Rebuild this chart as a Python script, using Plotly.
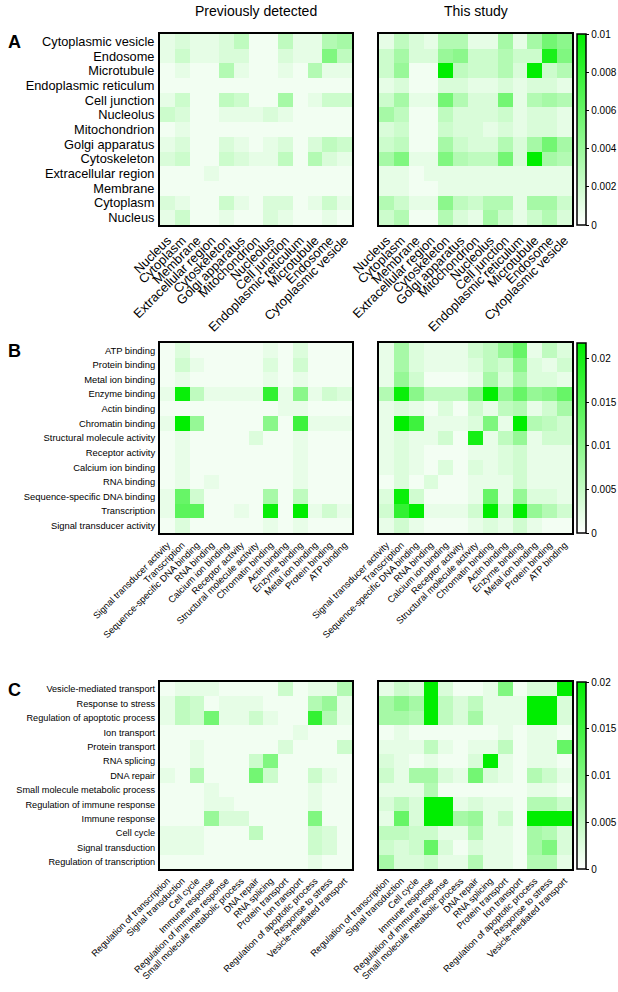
import plotly.graph_objects as go

# ---------------- DATA ----------------
cc_terms = ["Nucleus", "Cytoplasm", "Membrane", "Extracellular region", "Cytoskeleton",
            "Golgi apparatus", "Mitochondrion", "Nucleolus", "Cell junction",
            "Endoplasmic reticulum", "Microtubule", "Endosome", "Cytoplasmic vesicle"]
mf_terms = ["Signal transducer activity", "Transcription", "Sequence-specific DNA binding",
            "RNA binding", "Calcium ion binding", "Receptor activity",
            "Structural molecule activity", "Chromatin binding", "Actin binding",
            "Enzyme binding", "Metal ion binding", "Protein binding", "ATP binding"]
bp_terms = ["Regulation of transcription", "Signal transduction", "Cell cycle",
            "Immune response", "Regulation of immune response",
            "Small molecule metabolic process", "DNA repair", "RNA splicing",
            "Protein transport", "Ion transport", "Regulation of apoptotic process",
            "Response to stress", "Vesicle-mediated transport"]

# rows listed top-to-bottom (last term first), columns left-to-right (term order)
cc_prev = [
    [.001, .0015, .001, .001, .0015, .0025, .0005, .0005, .0025, .001, .001, .003, .0035],
    [.001, .002, .001, .001, .0015, .0015, .0005, .0005, .0015, .001, .001, .005, .0025],
    [.0005, .001, .0005, .0005, .003, .001, .0005, .0005, .001, .0005, .003, .001, .001],
    [.0005, .0005, .0005, .0005, .0005, .0005, .0005, .0005, .0005, .0005, .0005, .0005, .0005],
    [.001, .002, .0005, .0005, .0025, .002, .0005, .0005, .0035, .0005, .001, .002, .002],
    [.002, .0015, .0005, .0005, .001, .001, .001, .0015, .001, .0005, .0005, .0005, .0005],
    [.0005, .001, .0005, .0005, .0005, .0005, .0005, .0005, .0005, .0005, .0005, .0005, .0005],
    [.001, .0015, .0005, .0005, .0015, .001, .0005, .001, .0015, .0005, .0015, .0025, .002],
    [.0015, .002, .0005, .0005, .002, .0015, .001, .001, .0025, .0005, .003, .0015, .001],
    [.0005, .0005, .0005, .001, .0005, .0005, .0005, .0005, .0005, .0005, .0005, .0005, .0005],
    [.0005, .0005, .0005, .0005, .0005, .0005, .0005, .0005, .0005, .0005, .0005, .0005, .0005],
    [.0015, .001, .0005, .0005, .002, .001, .0005, .0015, .0015, .0005, .001, .002, .001],
    [.001, .002, .0005, .0005, .001, .0005, .0005, .0015, .001, .0005, .0005, .001, .0005],
]
cc_this = [
    [.001, .0025, .0015, .001, .003, .003, .001, .001, .0035, .001, .0035, .0055, .0045],
    [.002, .0035, .0015, .0015, .004, .0045, .002, .002, .003, .002, .002, .009, .005],
    [.002, .004, .0005, .0005, .0102, .0025, .002, .002, .003, .0015, .0105, .002, .003],
    [.001, .0015, .0005, .0005, .0015, .0015, .001, .001, .0015, .001, .0015, .0015, .001],
    [.002, .0035, .001, .001, .0055, .003, .0015, .0015, .0055, .001, .003, .0035, .003],
    [.0035, .0025, .0005, .0005, .0025, .0015, .0015, .0015, .002, .001, .0015, .0015, .001],
    [.0015, .002, .0005, .0005, .002, .0015, .0015, .001, .0015, .001, .0015, .0015, .001],
    [.002, .0025, .0005, .0005, .0035, .002, .0015, .0015, .003, .0015, .0035, .0055, .0035],
    [.0035, .005, .001, .001, .005, .003, .0025, .0025, .0055, .0015, .0102, .0035, .003],
    [.001, .001, .0005, .001, .001, .001, .001, .001, .001, .001, .001, .001, .001],
    [.001, .001, .0005, .0005, .001, .001, .001, .001, .001, .001, .001, .001, .001],
    [.003, .002, .001, .001, .0045, .0025, .002, .003, .003, .001, .0035, .0035, .002],
    [.002, .003, .0005, .0005, .003, .0015, .001, .0035, .002, .001, .002, .003, .0015],
]
mf_prev = [
    [.001, .003, .001, .001, .001, .001, .001, .002, .001, .003, .001, .001, .001],
    [.001, .004, .002, .001, .001, .001, .001, .003, .001, .004, .001, .001, .001],
    [.001, .002, .001, .001, .001, .001, .001, .002, .001, .002, .001, .001, .001],
    [.002, .021, .0055, .002, .002, .002, .002, .0175, .002, .01, .002, .004, .003],
    [.001, .001, .001, .001, .001, .001, .001, .001, .002, .002, .001, .001, .001],
    [.002, .023, .009, .001, .001, .001, .001, .01, .001, .0165, .002, .002, .002],
    [.001, .002, .001, .001, .001, .001, .003, .001, .001, .002, .001, .001, .001],
    [.001, .002, .001, .001, .001, .001, .001, .001, .001, .002, .001, .001, .001],
    [.001, .002, .001, .001, .001, .001, .001, .001, .001, .002, .001, .001, .001],
    [.001, .002, .001, .002, .001, .001, .001, .001, .001, .002, .001, .001, .001],
    [.002, .013, .004, .001, .001, .001, .001, .0075, .001, .0055, .001, .001, .001],
    [.002, .014, .014, .001, .001, .002, .001, .021, .001, .023, .002, .004, .002],
    [.001, .003, .001, .001, .001, .001, .001, .002, .001, .002, .001, .001, .001],
]
mf_this = [
    [.002, .0075, .003, .002, .002, .002, .004, .0055, .009, .013, .002, .0055, .003],
    [.002, .0075, .003, .002, .002, .002, .003, .0055, .004, .01, .003, .002, .004],
    [.002, .009, .004, .001, .001, .001, .002, .0075, .003, .0075, .003, .003, .002],
    [.0065, .021, .01, .0055, .0055, .0055, .01, .023, .009, .013, .009, .01, .013],
    [.002, .003, .002, .001, .003, .001, .004, .002, .0055, .0065, .002, .004, .0075],
    [.002, .023, .0165, .002, .002, .002, .003, .011, .002, .023, .0065, .0055, .004],
    [.002, .003, .002, .002, .004, .001, .02, .002, .0055, .009, .002, .004, .004],
    [.002, .003, .002, .001, .001, .001, .002, .002, .003, .004, .002, .002, .002],
    [.002, .003, .002, .001, .003, .001, .003, .002, .003, .004, .002, .002, .002],
    [.001, .003, .001, .003, .001, .001, .002, .002, .002, .004, .002, .002, .002],
    [.003, .021, .004, .001, .001, .001, .002, .013, .002, .009, .003, .003, .002],
    [.004, .0175, .023, .002, .002, .002, .004, .023, .004, .023, .009, .0065, .004],
    [.002, .004, .002, .001, .001, .001, .002, .003, .002, .004, .002, .001, .001],
]
bp_prev = [
    [.001, .002, .002, .002, .001, .001, .001, .001, .004, .001, .002, .002, .006],
    [.002, .005, .004, .001, .002, .002, .002, .001, .001, .001, .006, .008, .002],
    [.002, .005, .004, .011, .002, .002, .004, .002, .001, .001, .016, .006, .002],
    [.001, .001, .001, .001, .001, .001, .001, .001, .001, .002, .001, .001, .001],
    [.001, .001, .002, .001, .001, .001, .001, .001, .003, .001, .001, .001, .004],
    [.001, .001, .002, .001, .001, .001, .004, .01, .001, .001, .001, .001, .001],
    [.002, .001, .006, .001, .001, .001, .011, .004, .001, .001, .004, .002, .001],
    [.001, .001, .001, .002, .001, .001, .001, .001, .001, .001, .002, .001, .001],
    [.001, .001, .001, .002, .002, .001, .001, .001, .001, .001, .002, .001, .001],
    [.001, .001, .001, .008, .003, .003, .001, .001, .001, .001, .01, .001, .001],
    [.002, .002, .002, .001, .001, .001, .005, .001, .001, .001, .004, .003, .001],
    [.002, .002, .002, .001, .001, .001, .001, .001, .001, .001, .004, .003, .001],
    [.001, .001, .001, .001, .001, .001, .001, .001, .001, .001, .002, .001, .001],
]
bp_this = [
    [.002, .004, .003, .025, .003, .001, .001, .002, .01, .001, .003, .003, .025],
    [.007, .009, .007, .025, .005, .003, .005, .002, .002, .002, .028, .028, .003],
    [.007, .007, .006, .025, .005, .003, .007, .002, .002, .002, .028, .028, .003],
    [.001, .002, .001, .001, .001, .001, .001, .001, .002, .001, .002, .002, .001],
    [.002, .002, .002, .005, .002, .001, .002, .002, .005, .001, .002, .002, .012],
    [.003, .002, .001, .002, .001, .001, .003, .022, .002, .001, .002, .002, .001],
    [.004, .002, .007, .007, .003, .002, .011, .003, .002, .001, .006, .004, .002],
    [.002, .002, .002, .006, .001, .001, .001, .001, .001, .001, .002, .002, .001],
    [.003, .005, .003, .03, .03, .002, .003, .002, .002, .001, .006, .006, .004],
    [.002, .012, .003, .03, .03, .007, .008, .002, .004, .001, .025, .025, .025],
    [.005, .005, .004, .004, .002, .002, .006, .002, .002, .001, .007, .006, .003],
    [.004, .003, .004, .012, .003, .001, .003, .002, .002, .001, .007, .01, .003],
    [.007, .003, .003, .004, .002, .002, .006, .002, .002, .001, .006, .006, .002],
]

cb_ticks_a = [0, 0.002, 0.004, 0.006, 0.008, 0.01]
cb_text_a = ["0", "0.002", "0.004", "0.006", "0.008", "0.01"]
cb_ticks_b = [0, 0.005, 0.01, 0.015, 0.02]
cb_text_b = ["0", "0.005", "0.01", "0.015", "0.02"]
cb_ticks_c = [0, 0.005, 0.01, 0.015, 0.02]
cb_text_c = ["0", "0.005", "0.01", "0.015", "0.02"]
cmax_vals = [0.01, 0.0218, 0.02]

col_titles = ["Previously detected", "This study"]
panel_letters = ["A", "B", "C"]

# ---------------- LAYOUT GEOMETRY (pixels) ----------------
W, H = 618, 992
FONT = "Arial, Liberation Sans, Helvetica, sans-serif"
rows_px = [(34, 225), (343, 533), (682, 869)]
cols_px = [(160, 352), (379, 572)]
label_sizes = [12.8, 9.4, 9.2]
cb_x0, cb_th = 577, 9
green_scale = [[0, "#ffffff"], [1, "#00ee00"]]

def px_x(p):
    return p / W

def px_y(p):
    return 1 - p / H

fig = go.Figure()
panels = [
    (cc_terms, cc_prev, cc_this, cb_ticks_a, cb_text_a),
    (mf_terms, mf_prev, mf_this, cb_ticks_b, cb_text_b),
    (bp_terms, bp_prev, bp_this, cb_ticks_c, cb_text_c),
]
layout = {}
ax = 0
for pi, (terms, prev, this, tv, tt) in enumerate(panels):
    ca = "coloraxis" if pi == 0 else f"coloraxis{pi + 1}"
    y0, y1 = rows_px[pi]
    fs = label_sizes[pi]
    layout[ca] = dict(
        colorscale=green_scale, cmin=0, cmax=cmax_vals[pi],
        colorbar=dict(
            x=px_x(cb_x0), xanchor="left", xpad=0, ypad=0,
            thickness=cb_th, thicknessmode="pixels",
            y=px_y(y1), yanchor="bottom", len=(y1 - y0) / H, lenmode="fraction",
            outlinecolor="black", outlinewidth=1.5,
            tickvals=tv, ticktext=tt, ticks="outside", ticklen=3, tickcolor="black",
            tickfont=dict(family=FONT, size=10, color="black"),
        ),
    )
    row_labels = list(reversed(terms))
    for ci, z in enumerate([prev, this]):
        ax += 1
        xn = "x" if ax == 1 else f"x{ax}"
        yn = "y" if ax == 1 else f"y{ax}"
        fig.add_trace(go.Heatmap(
            z=z, x=terms, y=row_labels, coloraxis=ca, xaxis=xn, yaxis=yn,
            hovertemplate="%{y} / %{x}: %{z}<extra></extra>",
        ))
        x0, x1 = cols_px[ci]
        xk = "xaxis" if ax == 1 else f"xaxis{ax}"
        yk = "yaxis" if ax == 1 else f"yaxis{ax}"
        layout[xk] = dict(
            domain=[px_x(x0), px_x(x1)], anchor=yn, tickangle=-45,
            tickmode="array", tickvals=terms, ticktext=terms,
            showline=True, linecolor="black", linewidth=2, mirror=True,
            ticks="", showgrid=False, zeroline=False, automargin=False,
            ticklabelstandoff=1,
            tickfont=dict(family=FONT, size=fs, color="black"), fixedrange=True,
        )
        layout[yk] = dict(
            domain=[px_y(y1), px_y(y0)], anchor=xn, autorange="reversed",
            tickmode="array", tickvals=row_labels, ticktext=row_labels,
            showline=True, linecolor="black", linewidth=2, mirror=True,
            ticks="", showgrid=False, zeroline=False, automargin=False,
            showticklabels=(ci == 0), ticklabelstandoff=1,
            tickfont=dict(family=FONT, size=fs, color="black"), fixedrange=True,
        )

annotations = []
for ci, t in enumerate(col_titles):
    x0, x1 = cols_px[ci]
    annotations.append(dict(
        text=t, x=px_x((x0 + x1) / 2), y=px_y(11), xref="paper", yref="paper",
        xanchor="center", yanchor="middle", showarrow=False,
        font=dict(family=FONT, size=14, color="black"),
    ))
for pi, letter in enumerate(panel_letters):
    annotations.append(dict(
        text=f"<b>{letter}</b>", x=px_x(14), y=px_y(rows_px[pi][0] + 8),
        xref="paper", yref="paper", xanchor="center", yanchor="middle",
        showarrow=False, font=dict(family=FONT, size=18, color="black"),
    ))

fig.update_layout(
    width=W, height=H, margin=dict(l=0, r=0, t=0, b=0),
    paper_bgcolor="white", plot_bgcolor="white",
    annotations=annotations, showlegend=False,
    font=dict(family=FONT, color="black"),
    **layout,
)
fig.write_html(
    "out.html",
    config={"displayModeBar": False},
    post_script="document.body.style.margin='0px';document.documentElement.style.overflow='hidden';",
)
